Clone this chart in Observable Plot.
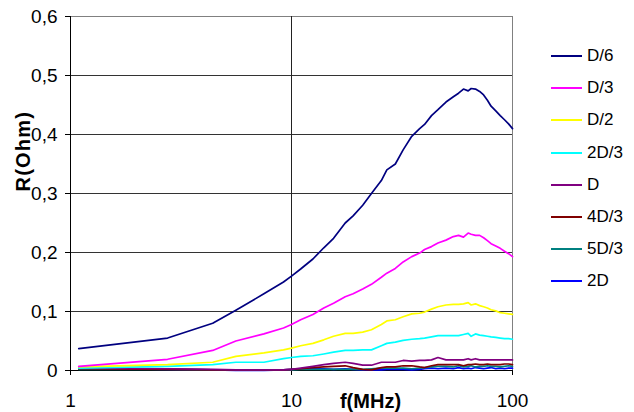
<!DOCTYPE html>
<html>
<head>
<meta charset="utf-8">
<script src="https://cdn.jsdelivr.net/npm/d3@7"></script>
<script src="https://cdn.jsdelivr.net/npm/@observablehq/plot@0.6"></script>
<style>
  html, body { margin: 0; padding: 0; background: #fff; }
  #wrap { position: relative; width: 634px; height: 412px; font-family: "Liberation Sans", Arial, sans-serif; }
  #legend { position: absolute; left: 551px; top: 40px; }
  .row { height: 32.2px; display: flex; align-items: center; }
  .sw { width: 31px; height: 2px; margin-right: 5px; }
  .lab { font-size: 17px; color: #000; }
  .ylab text { letter-spacing: 1.2px; }
</style>
</head>
<body>
<div id="wrap"><div id="legend"></div></div>
<script>
const freqs = [1.09, 2.75, 4.4, 5.6, 7.5, 9.2, 10, 11, 12.5, 14, 15.5, 17.5, 19, 21, 23, 25.5, 27, 29.5, 32, 35, 38, 40, 43, 46, 50, 54, 57, 60, 63, 65, 68, 71, 74, 77, 80, 84, 88, 92, 96, 100];

const seriesNames = ["D/6", "D/3", "D/2", "2D/3", "D", "4D/3", "5D/3", "2D"];
const seriesColors = ["#000080", "#FF00FF", "#FFFF00", "#00FFFF", "#800080", "#800000", "#008080", "#0000FF"];

const vD6 = [0.037, 0.055, 0.080, 0.102, 0.130, 0.150, 0.160, 0.172, 0.189, 0.208, 0.224, 0.250, 0.262, 0.280, 0.300, 0.322, 0.340, 0.350, 0.374, 0.397, 0.410, 0.417, 0.432, 0.442, 0.455, 0.464, 0.470, 0.477, 0.474, 0.478, 0.477, 0.473, 0.467, 0.458, 0.448, 0.440, 0.432, 0.425, 0.418, 0.410];
const vD3 = [0.007, 0.019, 0.034, 0.050, 0.062, 0.072, 0.078, 0.086, 0.095, 0.106, 0.114, 0.125, 0.130, 0.138, 0.146, 0.158, 0.165, 0.173, 0.184, 0.193, 0.199, 0.205, 0.210, 0.216, 0.221, 0.227, 0.229, 0.226, 0.233, 0.231, 0.229, 0.229, 0.225, 0.220, 0.215, 0.211, 0.207, 0.202, 0.198, 0.193];
const vD2 = [0.006, 0.010, 0.014, 0.024, 0.030, 0.035, 0.038, 0.042, 0.046, 0.052, 0.058, 0.063, 0.063, 0.065, 0.069, 0.078, 0.084, 0.086, 0.091, 0.096, 0.097, 0.099, 0.104, 0.108, 0.111, 0.112, 0.112, 0.113, 0.115, 0.111, 0.113, 0.110, 0.108, 0.106, 0.103, 0.101, 0.098, 0.097, 0.096, 0.095];
const v2D3 = [0.004, 0.007, 0.010, 0.014, 0.014, 0.020, 0.022, 0.024, 0.025, 0.028, 0.031, 0.034, 0.034, 0.035, 0.035, 0.042, 0.046, 0.048, 0.051, 0.053, 0.054, 0.055, 0.057, 0.059, 0.059, 0.059, 0.059, 0.061, 0.063, 0.058, 0.062, 0.060, 0.059, 0.058, 0.057, 0.056, 0.055, 0.054, 0.054, 0.053];
const vD = [0.004, 0.003, 0.002, 0.001, 0.001, 0.001, 0.002, 0.004, 0.007, 0.010, 0.012, 0.014, 0.012, 0.009, 0.009, 0.014, 0.014, 0.014, 0.017, 0.016, 0.017, 0.017, 0.018, 0.022, 0.018, 0.018, 0.018, 0.018, 0.020, 0.018, 0.020, 0.018, 0.018, 0.018, 0.018, 0.018, 0.018, 0.018, 0.018, 0.018];
const v4D3 = [0.003, 0.002, 0.001, 0.001, 0.001, 0.001, 0.002, 0.003, 0.005, 0.006, 0.007, 0.008, 0.005, 0.002, 0.001, 0.005, 0.006, 0.006, 0.008, 0.008, 0.006, 0.005, 0.008, 0.010, 0.010, 0.010, 0.010, 0.008, 0.010, 0.010, 0.011, 0.010, 0.010, 0.011, 0.010, 0.010, 0.010, 0.011, 0.011, 0.010];
const v5D3 = [0.002, 0.002, 0.001, 0.001, 0.001, 0.001, 0.001, 0.002, 0.002, 0.002, 0.002, 0.002, 0.002, 0.002, 0.003, 0.004, 0.004, 0.004, 0.004, 0.003, 0.004, 0.005, 0.006, 0.007, 0.007, 0.006, 0.008, 0.006, 0.007, 0.008, 0.006, 0.007, 0.007, 0.008, 0.007, 0.007, 0.006, 0.007, 0.008, 0.007];
const v2D = [0.004, 0.002, 0.001, 0.000, 0.000, 0.001, 0.002, 0.003, 0.003, 0.003, 0.002, 0.003, 0.002, 0.001, 0.001, 0.001, 0.002, 0.002, 0.002, 0.001, 0.002, 0.003, 0.004, 0.003, 0.004, 0.003, 0.005, 0.003, 0.004, 0.003, 0.005, 0.004, 0.003, 0.004, 0.005, 0.003, 0.004, 0.003, 0.004, 0.004];

const seriesValues = [vD6, vD3, vD2, v2D3, vD, v4D3, v5D3, v2D];

const xTicks = [1, 10, 100];
const xTickLabels = ["1", "10", "100"];
const yTicks = [0, 0.1, 0.2, 0.3, 0.4, 0.5, 0.6];
const yTickLabels = ["0", "0,1", "0,2", "0,3", "0,4", "0,5", "0,6"];
const xLabel = "f(MHz)";
const yLabel = "R(Ohm)";

const rows = [];
seriesNames.forEach((name, s) => {
  seriesValues[s].forEach((v, i) => rows.push({series: name, f: freqs[i], r: v}));
});

// draw so that the first series is on top (as in the reference)
const lineMarks = seriesNames.slice().reverse().map(name => {
  const s = seriesNames.indexOf(name);
  return Plot.lineY(rows.filter(d => d.series === name), {x: "f", y: "r", stroke: seriesColors[s], strokeWidth: 1.7});
});

const chart = Plot.plot({
  width: 634,
  height: 412,
  marginLeft: 70,
  marginRight: 122,
  marginTop: 16,
  marginBottom: 42,
  style: {fontFamily: "'Liberation Sans', Arial, sans-serif", fontSize: "19px", color: "#000", background: "#fff"},
  x: {type: "log", domain: [1, 100]},
  y: {domain: [0, 0.6]},
  marks: [
    Plot.ruleY(yTicks.filter(t => t > 0 && t < 0.6), {stroke: "#333", strokeWidth: 1}),
    Plot.ruleY([0.6], {stroke: "#808080", strokeWidth: 1}),
    Plot.ruleX([10], {stroke: "#222", strokeWidth: 1}),
    Plot.ruleX([100], {stroke: "#808080", strokeWidth: 1}),
    Plot.ruleX([1], {stroke: "#000", strokeWidth: 1}),
    Plot.ruleY([0], {stroke: "#000", strokeWidth: 1}),
    Plot.axisX({ticks: xTicks, tickFormat: (d, i) => xTickLabels[xTicks.indexOf(d)], tickSize: 5, tickPadding: 18, fontSize: 19, label: null, stroke: "#000"}),
    Plot.axisY({ticks: yTicks, tickFormat: d => yTickLabels[yTicks.findIndex(t => Math.abs(t - d) < 1e-9)], tickSize: 5, tickPadding: 8, fontSize: 19, label: null, stroke: "#000"}),
    ...lineMarks,
    Plot.text([xLabel], {frameAnchor: "bottom", text: d => d, dx: 79, dy: 37, lineAnchor: "bottom", fontSize: 20, fontWeight: "bold"}),
    Plot.text([yLabel], {frameAnchor: "left", text: d => d, dx: -47, dy: -2, rotate: -90, fontSize: 20, fontWeight: "bold", className: "ylab"})
  ]
});

const wrap = document.getElementById("wrap");
wrap.insertBefore(chart, wrap.firstChild);

const legend = document.getElementById("legend");
seriesNames.forEach((name, s) => {
  const row = document.createElement("div");
  row.className = "row";
  const sw = document.createElement("div");
  sw.className = "sw";
  sw.style.background = seriesColors[s];
  const lab = document.createElement("span");
  lab.className = "lab";
  lab.textContent = name;
  row.appendChild(sw);
  row.appendChild(lab);
  legend.appendChild(row);
});
</script>
</body>
</html>
